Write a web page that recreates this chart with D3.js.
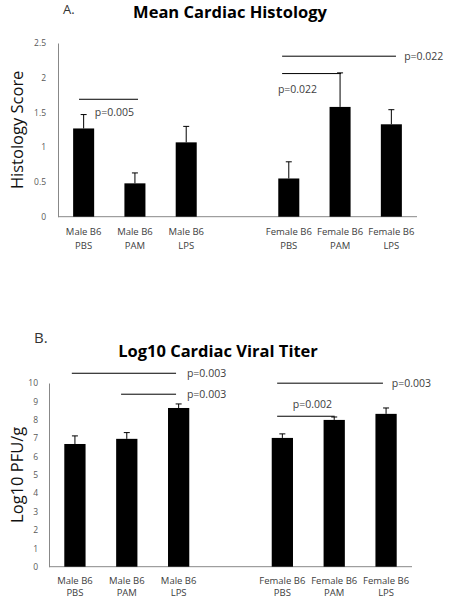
<!DOCTYPE html>
<html><head><meta charset="utf-8">
<script src="https://cdn.jsdelivr.net/npm/d3@7"></script>
<style>body{margin:0;background:#fff}svg{display:block}text{font-family:"Open Sans",Lato,sans-serif}</style>
</head><body>
<script>
// ---- data ----
const groupsTop = ["Male B6", "Male B6", "Male B6", "Female B6", "Female B6", "Female B6"];
const treatments = ["PBS", "PAM", "LPS", "PBS", "PAM", "LPS"];
const histMean = [1.27, 0.48, 1.07, 0.55, 1.58, 1.33];
const histErr  = [0.20, 0.15, 0.23, 0.24, 0.49, 0.21];
const histTicks = ["0", "0.5", "1", "1.5", "2", "2.5"];
const titerMean = [6.68, 6.96, 8.64, 7.01, 7.99, 8.32];
const titerErr  = [0.44, 0.34, 0.22, 0.22, 0.16, 0.32];
const titerTicks = ["0","1","2","3","4","5","6","7","8","9","10"];
// significance brackets: [from slot, to slot, y value, label, label slot, label y, anchor]
const histSig = [
  [-0.09, 1.06, 1.69, "p=0.005", 0.60, 1.51, "middle"],
  [3.87, 6.09, 2.31, "p=0.022", 6.25, 2.31, "start"],
  [3.87, 5.02, 2.06, "p=0.022", 4.17, 1.84, "middle"]
];
const titerSig = [
  [-0.06, 1.95, 10.53, "p=0.003", 2.16, 10.53, "start"],
  [0.89, 1.95, 9.39, "p=0.003", 2.16, 9.39, "start"],
  [3.90, 5.94, 9.99, "p=0.003", 6.11, 9.99, "start"],
  [3.90, 5.01, 8.19, "p=0.002", 4.58, 8.84, "middle"]
];

const W = 451, H = 600;
const svg = d3.select("body").append("svg").attr("width", W).attr("height", H);

function panel(o) {
  const g = svg.append("g");
  const slots = ["c0","c1","c2","gap","c3","c4","c5"];
  const barIdx = [0,1,2,4,5,6];
  const x = d3.scaleBand().domain(slots).range([o.x0, o.x1]).paddingInner(0.59).paddingOuter(0.295);
  const xs = d3.scaleLinear().domain([-0.5, 6.5]).range([o.x0, o.x1]);
  const y = d3.scaleLinear().domain([0, o.max]).range([o.y0, o.y1]);

  // letter and title
  g.append("text").attr("x", o.letterX).attr("y", o.letterY).attr("font-size", o.letterSize)
    .attr("fill", "#333").text(o.letter);
  g.append("text").attr("x", o.titleX).attr("y", o.titleY).attr("text-anchor", "middle")
    .attr("font-size", 16.5).attr("font-weight", "bold").attr("fill", "#000").text(o.title);

  // y axis
  const yAxis = d3.axisLeft(y).tickValues(o.ticks.map(Number)).tickFormat((d, i) => o.ticks[i]).tickSize(0).tickPadding(o.tickPad);
  const ya = g.append("g").attr("transform", `translate(${o.x0},0)`).call(yAxis);
  ya.select(".domain").attr("stroke", "#888").attr("stroke-width", 1);
  ya.selectAll("text").attr("font-size", 8.5).attr("fill", "#595959").attr("font-family", "'Open Sans', sans-serif");

  // x axis baseline
  g.append("line").attr("x1", o.x0).attr("x2", o.x1).attr("y1", y(0)).attr("y2", y(0))
    .attr("stroke", "#888").attr("stroke-width", 1);

  // y label
  g.append("text").attr("transform", `translate(${o.ylabX},${(o.y0 + o.y1) / 2}) rotate(-90)`)
    .attr("text-anchor", "middle").attr("dominant-baseline", "central")
    .attr("font-size", 16.5).attr("fill", "#111").text(o.ylab);

  // bars
  const data = o.mean.map((m, i) => ({ slot: slots[barIdx[i]], m, e: o.err[i], g: groupsTop[i], t: treatments[i] }));
  g.selectAll("rect.bar").data(data).join("rect").attr("class", "bar")
    .attr("x", d => x(d.slot)).attr("width", x.bandwidth())
    .attr("y", d => y(d.m)).attr("height", d => y(0) - y(d.m)).attr("fill", "#000");
  // error bars
  g.selectAll("line.err").data(data).join("line").attr("class", "err")
    .attr("x1", d => x(d.slot) + x.bandwidth() / 2).attr("x2", d => x(d.slot) + x.bandwidth() / 2)
    .attr("y1", d => y(d.m)).attr("y2", d => y(d.m + d.e)).attr("stroke", "#000").attr("stroke-width", 1);
  g.selectAll("line.cap").data(data).join("line").attr("class", "cap")
    .attr("x1", d => x(d.slot) + x.bandwidth() / 2 - 3).attr("x2", d => x(d.slot) + x.bandwidth() / 2 + 3)
    .attr("y1", d => y(d.m + d.e)).attr("y2", d => y(d.m + d.e)).attr("stroke", "#000").attr("stroke-width", 1);

  // category labels
  const cl = g.selectAll("text.cat").data(data).join("text").attr("class", "cat")
    .attr("text-anchor", "middle").attr("font-size", 9.5).attr("fill", "#404040");
  cl.append("tspan").attr("x", d => x(d.slot) + x.bandwidth() / 2).attr("y", o.catY).text(d => d.g);
  cl.append("tspan").attr("x", d => x(d.slot) + x.bandwidth() / 2).attr("y", o.catY + o.catGap).text(d => d.t);

  // significance
  o.sig.forEach(s => {
    g.append("line").attr("x1", xs(s[0])).attr("x2", xs(s[1])).attr("y1", y(s[2])).attr("y2", y(s[2]))
      .attr("stroke", "#000").attr("stroke-width", 1);
    g.append("text").attr("x", xs(s[4])).attr("y", y(s[5])).attr("dominant-baseline", "central")
      .attr("text-anchor", s[6]).attr("font-size", 10.5).attr("fill", "#404040").text(s[3]);
  });
}

panel({ x0: 58, x1: 417, y0: 216.7, y1: 43, max: 2.5, ticks: histTicks, mean: histMean, err: histErr,
  sig: histSig, title: "Mean Cardiac Histology", titleX: 230, titleY: 18, letter: "A.", letterX: 63, letterY: 14,
  letterSize: 13, ylab: "Histology Score", ylabX: 16, catY: 235, catGap: 13.5, tickPad: 12 });
panel({ x0: 49, x1: 412, y0: 566.7, y1: 383, max: 10, ticks: titerTicks, mean: titerMean, err: titerErr,
  sig: titerSig, title: "Log10 Cardiac Viral Titer", titleX: 218, titleY: 357, letter: "B.", letterX: 34, letterY: 343,
  letterSize: 15, ylab: "Log10 PFU/g", ylabX: 16, catY: 584, catGap: 12, tickPad: 11 });
</script>
</body></html>
